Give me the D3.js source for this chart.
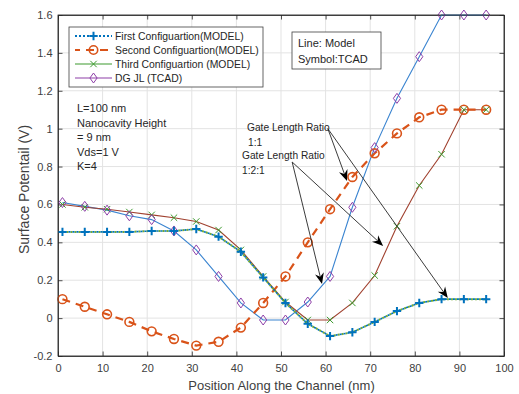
<!DOCTYPE html>
<html>
<head>
<meta charset="utf-8">
<script src="https://cdn.jsdelivr.net/npm/d3@7"></script>
<style>
  html, body { margin: 0; padding: 0; background: #fff; }
  svg { display: block; font-family: "Liberation Sans", Arial, Helvetica, sans-serif; }
</style>
</head>
<body>
<svg id="chart" width="519" height="394"></svg>
<script>
// Sample positions along the channel (nm)
const positions = [1, 6, 11, 16, 21, 26, 31, 36, 41, 46, 51, 56, 61, 66, 71, 76, 81, 86, 91, 96];

// Surface potential (V) for each configuration
const firstConfig  = [0.455, 0.455, 0.455, 0.455, 0.46, 0.46, 0.47, 0.43, 0.35, 0.215, 0.08, -0.03, -0.095, -0.075, -0.02, 0.037, 0.08, 0.10, 0.10, 0.10];
const secondConfig = [0.10, 0.06, 0.02, -0.02, -0.07, -0.11, -0.145, -0.125, -0.05, 0.08, 0.22, 0.40, 0.575, 0.745, 0.87, 0.975, 1.06, 1.10, 1.10, 1.10];
const thirdConfig  = [0.60, 0.585, 0.575, 0.56, 0.545, 0.53, 0.51, 0.465, 0.36, 0.22, 0.085, -0.01, -0.01, 0.08, 0.225, 0.485, 0.70, 0.865, 1.10, 1.10];
const dgJL         = [0.61, 0.59, 0.57, 0.54, 0.52, 0.46, 0.36, 0.22, 0.08, -0.01, -0.01, 0.085, 0.22, 0.585, 0.90, 1.16, 1.38, 1.60, 1.60, 1.60];

// Axis ticks
const xTicks = [0, 10, 20, 30, 40, 50, 60, 70, 80, 90, 100];
const xTickLabels = ["0", "10", "20", "30", "40", "50", "60", "70", "80", "90", "100"];
const yTicks = [-0.2, 0, 0.2, 0.4, 0.6, 0.8, 1, 1.2, 1.4, 1.6];
const yTickLabels = ["-0.2", "0", "0.2", "0.4", "0.6", "0.8", "1", "1.2", "1.4", "1.6"];

// Legend entries
const legendLabels = ["First Configuartion(MODEL)", "Second Configuartion(MODEL)", "Third Configuartion (MODEL)", "DG JL (TCAD)"];

// Arrow annotations in data units: [x0, y0, x1, y1]
const arrows = [
  [60.5, 1.00, 64.8, 0.724],
  [60.5, 1.00, 87.4, 0.106],
  [52.5, 0.824, 59.2, 0.18],
  [52.5, 0.824, 72.9, 0.381]
];

const svg = d3.select("#chart");
const plot = { left: 58, top: 15, right: 504, bottom: 356 };

const x = d3.scaleLinear().domain([0, 100]).range([plot.left, plot.right]);
const y = d3.scaleLinear().domain([-0.2, 1.6]).range([plot.bottom, plot.top]);

const axisColor = "#262626";
const labelColor = "#404040";
const gridColor = "#e3e3e3";
const C = {
  blue: "#0072BD",
  blueLine: "#3a84d0",
  orange: "#D95319",
  green: "#3c9a2e",
  greenLine: "#77AC30",
  purple: "#8e3fa8",
  brown: "#a0412f"
};

// Grid
const grid = svg.append("g");
grid.selectAll(".gx").data(xTicks).join("line")
  .attr("x1", d => x(d)).attr("x2", d => x(d))
  .attr("y1", plot.top).attr("y2", plot.bottom)
  .attr("stroke", gridColor).attr("stroke-width", 1);
grid.selectAll(".gy").data(yTicks).join("line")
  .attr("x1", plot.left).attr("x2", plot.right)
  .attr("y1", d => y(d)).attr("y2", d => y(d))
  .attr("stroke", gridColor).attr("stroke-width", 1);

// Axes (ticks pointing inward on all four sides)
const axStyle = g => {
  g.selectAll(".domain").attr("stroke", axisColor).attr("stroke-width", 0.8);
  g.selectAll(".tick line").attr("stroke", axisColor).attr("stroke-width", 0.8);
  g.selectAll("text").attr("fill", labelColor).style("font-size", "11px");
};
svg.append("g").attr("transform", `translate(0,${plot.bottom})`)
  .call(d3.axisBottom(x).tickValues(xTicks).tickFormat((d, i) => xTickLabels[i]).tickSizeInner(-4.5).tickSizeOuter(0).tickPadding(8))
  .call(axStyle);
svg.append("g").attr("transform", `translate(0,${plot.top})`)
  .call(d3.axisTop(x).tickValues(xTicks).tickFormat("").tickSizeInner(-4.5).tickSizeOuter(0))
  .call(axStyle);
svg.append("g").attr("transform", `translate(${plot.left},0)`)
  .call(d3.axisLeft(y).tickValues(yTicks).tickFormat((d, i) => yTickLabels[i]).tickSizeInner(-4.5).tickSizeOuter(0).tickPadding(5.5))
  .call(axStyle);
svg.append("g").attr("transform", `translate(${plot.right},0)`)
  .call(d3.axisRight(y).tickValues(yTicks).tickFormat("").tickSizeInner(-4.5).tickSizeOuter(0))
  .call(axStyle);

// Axis titles
svg.append("text").attr("x", (plot.left + plot.right) / 2 + 0.5).attr("y", 390)
  .attr("text-anchor", "middle").attr("fill", labelColor).style("font-size", "13px")
  .text("Position Along the Channel (nm)");
svg.append("text").attr("transform", `translate(28.5,${(plot.top + plot.bottom) / 2 + 4}) rotate(-90)`)
  .attr("text-anchor", "middle").attr("fill", labelColor).style("font-size", "14px")
  .text("Surface Potentail (V)");

// Series lines
const line = vals => d3.line().x((d, i) => x(positions[i])).y(d => y(d))(vals);
const lines = svg.append("g").attr("fill", "none");

lines.append("path").attr("d", line(dgJL)).attr("stroke", C.blueLine).attr("stroke-width", 1.1);
lines.append("path").attr("d", line(thirdConfig)).attr("stroke", C.brown).attr("stroke-width", 1.1);
lines.append("path").attr("d", line(secondConfig)).attr("stroke", C.orange).attr("stroke-width", 2.2)
  .attr("stroke-dasharray", "8,6");
lines.append("path").attr("d", line(firstConfig)).attr("stroke", C.greenLine).attr("stroke-width", 2)
  .attr("stroke-dasharray", "2,2");
lines.append("path").attr("d", line(firstConfig)).attr("stroke", C.blue).attr("stroke-width", 1.6)
  .attr("stroke-dasharray", "2,2").attr("stroke-dashoffset", 2);

// Marker shapes
const markers = {
  plus: "M-4.2,0H4.2M0,-4.2V4.2",
  cross: "M-3.2,-3.2L3.2,3.2M-3.2,3.2L3.2,-3.2",
  diamond: "M0,-5L3.6,0L0,5L-3.6,0Z"
};
const drawMarkers = (vals, shape, color, width) => {
  const g = svg.append("g");
  if (shape === "circle") {
    g.selectAll("circle").data(vals).join("circle")
      .attr("cx", (d, i) => x(positions[i])).attr("cy", d => y(d)).attr("r", 4.4)
      .attr("fill", "none").attr("stroke", color).attr("stroke-width", width);
  } else {
    g.selectAll("path").data(vals).join("path")
      .attr("transform", (d, i) => `translate(${x(positions[i])},${y(d)})`)
      .attr("d", markers[shape])
      .attr("fill", "none").attr("stroke", color).attr("stroke-width", width);
  }
};
drawMarkers(secondConfig, "circle", C.orange, 1.6);
drawMarkers(thirdConfig, "cross", C.green, 1);
drawMarkers(dgJL, "diamond", C.purple, 1);
drawMarkers(firstConfig, "plus", C.blue, 2);

// Plot box
svg.append("rect").attr("x", plot.left).attr("y", plot.top)
  .attr("width", plot.right - plot.left).attr("height", plot.bottom - plot.top)
  .attr("fill", "none").attr("stroke", axisColor).attr("stroke-width", 0.8);

// Legend
const leg = svg.append("g");
leg.append("rect").attr("x", 69).attr("y", 27).attr("width", 194).attr("height", 60)
  .attr("fill", "#fff").attr("stroke", "#404040").attr("stroke-width", 0.8);
const legStyles = [
  { color: C.blue, dash: "2,2", w: 2, shape: "plus", mw: 2 },
  { color: C.orange, dash: "8,6", w: 2.2, shape: "circle", mw: 1.6 },
  { color: C.green, dash: null, w: 1.1, shape: "cross", mw: 1 },
  { color: C.purple, dash: null, w: 1.1, shape: "diamond", mw: 1 }
];
legendLabels.forEach((lab, i) => {
  const ly = 36 + i * 14;
  const s = legStyles[i];
  const ln = leg.append("line").attr("x1", 75).attr("x2", 112).attr("y1", ly).attr("y2", ly)
    .attr("stroke", s.color).attr("stroke-width", s.w);
  if (s.dash) ln.attr("stroke-dasharray", s.dash).attr("stroke-dashoffset", i === 1 ? 3 : 0);
  if (s.shape === "circle") {
    leg.append("circle").attr("cx", 93.5).attr("cy", ly).attr("r", 4.2)
      .attr("fill", "none").attr("stroke", s.color).attr("stroke-width", s.mw);
  } else {
    leg.append("path").attr("transform", `translate(93.5,${ly})`).attr("d", markers[s.shape])
      .attr("fill", "none").attr("stroke", s.color).attr("stroke-width", s.mw);
  }
  leg.append("text").attr("x", 115).attr("y", ly + 3.7).attr("fill", "#262626")
    .style("font-size", "10.4px").text(lab);
});

// Text box: line/symbol key
svg.append("rect").attr("x", 292).attr("y", 32).attr("width", 89).attr("height", 37)
  .attr("fill", "#fff").attr("stroke", "#404040").attr("stroke-width", 0.8);
svg.append("text").attr("x", 298).attr("y", 47).attr("fill", "#262626").style("font-size", "11px").text("Line: Model");
svg.append("text").attr("x", 298).attr("y", 63).attr("fill", "#262626").style("font-size", "11px").text("Symbol:TCAD");

// Device parameters
const params = ["L=100 nm", "Nanocavity Height", "= 9 nm", "Vds=1 V", "K=4"];
params.forEach((t, i) => {
  svg.append("text").attr("x", 77).attr("y", 112 + i * 14.6).attr("fill", "#262626")
    .style("font-size", "11px").text(t);
});

// Gate length ratio labels
[["Gate Length Ratio", 247, 131], ["1:1", 248, 146], ["Gate Length Ratio", 242, 159], ["1:2:1", 242, 174]]
  .forEach(([t, tx, ty]) => {
    svg.append("text").attr("x", tx).attr("y", ty).attr("fill", "#262626")
      .style("font-size", "10.2px").text(t);
  });

// Arrows with filled heads
const ag = svg.append("g");
arrows.forEach(([ax0, ay0, ax1, ay1]) => {
  const x0 = x(ax0), y0 = y(ay0), x1 = x(ax1), y1 = y(ay1);
  const ang = Math.atan2(y1 - y0, x1 - x0);
  const L = 11, W = 4.5, back = 7.5;
  const ux = Math.cos(ang), uy = Math.sin(ang);
  const px = -uy, py = ux;
  const bx = x1 - ux * L, by = y1 - uy * L;
  const cx = x1 - ux * back, cy = y1 - uy * back;
  ag.append("line").attr("x1", x0).attr("y1", y0).attr("x2", cx).attr("y2", cy)
    .attr("stroke", "#262626").attr("stroke-width", 0.9);
  ag.append("path")
    .attr("d", `M${x1},${y1}L${bx + px * W},${by + py * W}L${cx},${cy}L${bx - px * W},${by - py * W}Z`)
    .attr("fill", "#000");
});
</script>
</body>
</html>
